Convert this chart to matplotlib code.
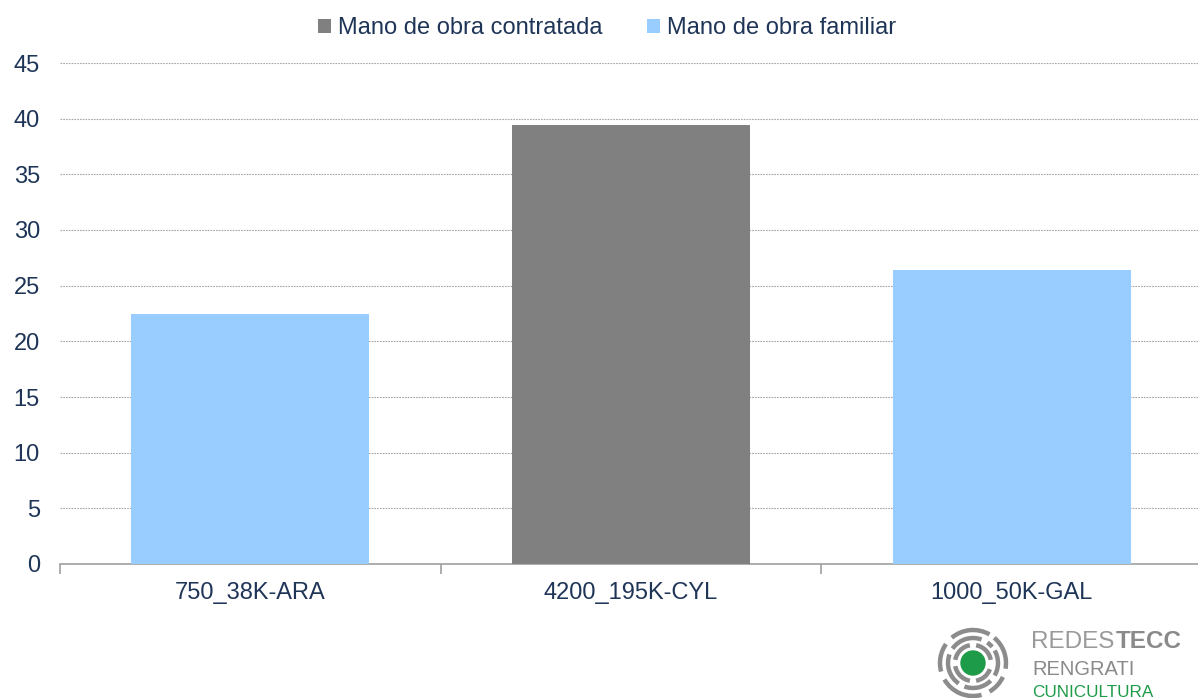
import numpy as np
import matplotlib
matplotlib.use("Agg")
import matplotlib.pyplot as plt
from matplotlib.patches import Arc, Circle

categories = ["750_38K-ARA", "4200_195K-CYL", "1000_50K-GAL"]
contratada = [0, 39.4, 0]
familiar = [22.5, 0, 26.4]
series_names = ["Mano de obra contratada", "Mano de obra familiar"]
y_ticks = [0, 5, 10, 15, 20, 25, 30, 35, 40, 45]

text_color = "#1F3557"
plt.rcParams["font.family"] = ["Liberation Sans", "DejaVu Sans"]

W, H = 1198, 698
fig = plt.figure(figsize=(W / 100, H / 100), dpi=100)
ax = fig.add_axes([60 / W, (H - 564) / H, (1202 - 60) / W, (564 - 63) / H])

x = np.arange(len(categories))
ax.bar(x, contratada, width=0.625, color="#808080", label=series_names[0], zorder=3)
ax.bar(x, familiar, width=0.625, bottom=contratada, color="#99CCFF", label=series_names[1], zorder=3)

ax.set_xlim(-0.5, 2.5)
ax.set_ylim(0, 45)
ax.set_yticks(y_ticks)
ax.set_xticks(x)
ax.set_xticklabels(categories)
ax.set_xticks([-0.5, 0.5, 1.5, 2.5], minor=True)
ax.tick_params(axis="x", which="major", length=0, pad=13, labelsize=17, labelcolor=text_color)
ax.tick_params(axis="x", which="minor", length=7, color="#A0A0A0", width=1.2)
ax.tick_params(axis="y", length=0, pad=14.5, labelsize=17, labelcolor=text_color)

ax.yaxis.grid(True, linestyle=(0, (1.5, 1)), color="#A6A6A6", linewidth=0.8, zorder=0)
ax.set_axisbelow(True)
for s in ["top", "right", "left"]:
    ax.spines[s].set_visible(False)
ax.spines["bottom"].set_color("#A0A0A0")
ax.spines["bottom"].set_linewidth(1.2)

fig.legend(loc="center", bbox_to_anchor=(607 / W, 1 - 28 / H), ncol=2, frameon=False,
           fontsize=17, labelcolor=text_color, handlelength=0.55, handleheight=0.55,
           handletextpad=0.3, columnspacing=1.9)

# logo
lg = fig.add_axes([0, 0, 1, 1], zorder=5)
lg.set_xlim(0, W)
lg.set_ylim(H, 0)
lg.axis("off")
cx, cy = 973, 663
lg.add_patch(Circle((cx, cy), 12, color="#1E9B48"))
ring_gray = "#8C8C8C"
rings = {
    18: [(20, 80), (100, 170), (190, 260), (280, 350)],
    25: [(-30, 30), (45, 110), (125, 200), (215, 290), (305, 320)],
    33: [(-50, 10), (25, 60), (75, 150), (165, 215), (230, 300)],
}
for r, segs in rings.items():
    for t1, t2 in segs:
        lg.add_patch(Arc((cx, cy), 2 * r, 2 * r, theta1=t1, theta2=t2,
                         color=ring_gray, linewidth=3.2))
lg.text(1031, 648, "REDES", fontsize=17.5, color="#9A9A9A", va="baseline", ha="left")
lg.text(1116, 648, "TECC", fontsize=17.5, color="#8A8A8A", fontweight="bold",
        va="baseline", ha="left")
lg.text(1032, 675, "RENGRATI", fontsize=14.5, color="#8A8A8A", va="baseline", ha="left")
lg.text(1032, 697, "CUNICULTURA", fontsize=12.3, color="#1E9B48", va="baseline", ha="left")

fig.savefig("out.png", dpi=100)
